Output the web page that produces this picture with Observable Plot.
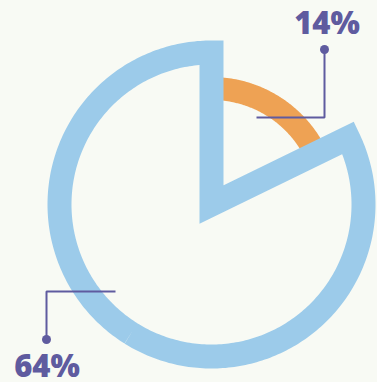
<!DOCTYPE html>
<html>
<head>
<meta charset="utf-8">
<script src="https://cdn.jsdelivr.net/npm/d3@7"></script>
<script src="https://cdn.jsdelivr.net/npm/@observablehq/plot@0.6"></script>
<style>
  html, body { margin: 0; padding: 0; background: #f8faf4; }
  #chart svg { display: block; }
</style>
</head>
<body>
<div id="chart"></div>
<script>
// Data
const categories = ["Blue share", "Orange share"];
const labels = ["64%", "14%"];
const shares = [64, 14];
// angular extent of each drawn ring (degrees clockwise from 12 o'clock)
const startDeg = [64, 0];
const endDeg = [360, 64];

// geometry / styling constants
const R_BLUE = 152, W_BLUE = 24;
const R_ORANGE = 116, W_ORANGE = 23;
const BLUE = "#9ccbea", ORANGE = "#eea254", INK = "#5f5b9f";

const rad = d => d * Math.PI / 180;
const pt = (r, deg) => ({x: r * Math.sin(rad(deg)), y: r * Math.cos(rad(deg))});

// Blue wedge outline: start mid-arc so the seam is invisible
function wedgePath(r, a0, a1) {
  const mid = (a0 + a1) / 2;
  const pts = [];
  for (let a = mid; a > a0; a -= 1) pts.push(pt(r, a));
  pts.push(pt(r, a0));
  pts.push({x: 0, y: 0});
  pts.push(pt(r, a1));
  for (let a = a1 - 1; a > mid; a -= 1) pts.push(pt(r, a));
  pts.push(pt(r, mid));
  return pts;
}
function arcPath(r, a0, a1) {
  const pts = [];
  for (let a = a0; a < a1; a += 1) pts.push(pt(r, a));
  pts.push(pt(r, a1));
  return pts;
}

const blue = wedgePath(R_BLUE, startDeg[0], endDeg[0]);
const orange = arcPath(R_ORANGE, startDeg[1], endDeg[1]);

// callouts (chart units, centre of pie at 0,0)
const callout14 = [{x: 45, y: 87}, {x: 113, y: 87}, {x: 113, y: 155}];
const callout64 = [{x: -96, y: -87}, {x: -165, y: -87}, {x: -165, y: -135}];
const dots = [{x: 113, y: 155}, {x: -165, y: -135}];
const texts = [
  {x: 115.5, y: 180, t: labels[1]},
  {x: -164.5, y: -162.5, t: labels[0]}
];

const chart = Plot.plot({
  width: 377,
  height: 382,
  margin: 0,
  x: {domain: [-211, 166], axis: null},
  y: {domain: [-178, 204], axis: null},
  style: {background: "#f8faf4", overflow: "visible"},
  marks: [
    Plot.line(orange, {x: "x", y: "y", stroke: ORANGE, strokeWidth: W_ORANGE, strokeLinecap: "butt", strokeLinejoin: "miter", curve: "linear"}),
    Plot.line(blue, {x: "x", y: "y", stroke: BLUE, strokeWidth: W_BLUE, strokeLinecap: "butt", strokeLinejoin: "miter", strokeMiterlimit: 10, curve: "linear"}),
    Plot.line(callout14, {x: "x", y: "y", stroke: INK, strokeWidth: 2, strokeLinecap: "butt", strokeLinejoin: "miter"}),
    Plot.line(callout64, {x: "x", y: "y", stroke: INK, strokeWidth: 2, strokeLinecap: "butt", strokeLinejoin: "miter"}),
    Plot.dot(dots, {x: "x", y: "y", r: 4.5, fill: INK}),
    Plot.text(texts, {x: "x", y: "y", text: "t", fill: INK, fontSize: 31, fontWeight: 800, fontFamily: "Open Sans", textAnchor: "middle", lineAnchor: "middle"})
  ]
});
document.getElementById("chart").append(chart);
</script>
</body>
</html>
